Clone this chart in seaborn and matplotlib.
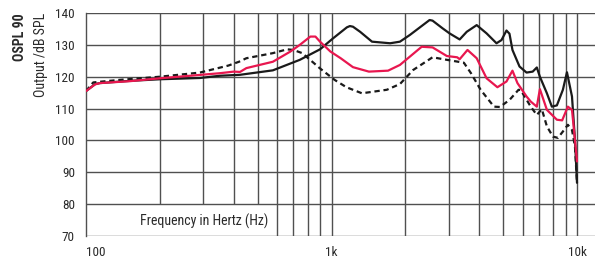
import numpy as np
import pandas as pd
import matplotlib
matplotlib.use("Agg")
import matplotlib.pyplot as plt
import seaborn as sns

# Frequency response curves (Hz, dB SPL)
black_freq = [100, 109, 114, 151, 200, 291, 351, 424, 577, 743, 898, 1013, 1155, 1188, 1223,
              1308, 1462, 1733, 1900, 2085, 2509, 2580, 2833, 3026, 3327, 3555, 3903, 4283,
              4700, 4925, 5161, 5308, 5459, 5832, 6229, 6600, 6860, 7060, 7540, 7900, 8280,
              8760, 9100, 9540, 9810, 10000]
black_spl = [115.5, 117.7, 118.0, 118.7, 119.2, 119.6, 120.3, 120.6, 122.0, 125.3, 128.6, 132.0,
             135.5, 135.9, 135.7, 134.1, 131.0, 130.5, 131.0, 133.1, 137.8, 137.6, 135.2, 133.6,
             131.7, 134.1, 136.2, 133.6, 130.5, 131.5, 134.5, 133.5, 128.4, 123.2, 121.3, 121.6,
             122.9, 120.0, 114.8, 110.6, 111.0, 115.9, 121.4, 113.8, 100.2, 86.7]

red_freq = [100, 109, 114, 151, 200, 351, 400, 424, 450, 577, 680, 743, 820, 860, 898, 990,
            1090, 1223, 1420, 1700, 1900, 2085, 2330, 2580, 2950, 3250, 3327, 3580, 3903, 4283,
            4740, 5161, 5459, 5720, 6229, 6480, 6860, 7060, 7540, 8280, 8700, 9180, 9540,
            9810, 10000]
red_spl = [115.5, 117.6, 118.0, 118.6, 119.5, 121.1, 121.6, 121.5, 122.7, 124.7, 127.9, 130.0,
           132.6, 132.6, 131.0, 127.9, 125.8, 123.0, 121.6, 121.9, 123.7, 126.3, 129.4, 129.2,
           126.5, 126.1, 125.5, 128.4, 125.8, 119.5, 116.7, 118.5, 121.9, 118.0, 113.8, 112.2,
           110.6, 116.1, 109.6, 106.5, 106.3, 110.6, 109.6, 100.2, 93.4]

dash_freq = [100, 107, 117, 137, 200, 291, 380, 420, 450, 577, 660, 700, 760, 850, 898, 1030,
             1150, 1330, 1680, 1900, 2150, 2580, 2950, 3460, 3700, 4050, 4590, 4850, 5308, 5780,
             5900, 6480, 6860, 7190, 7540, 7980, 8360, 8760, 9180, 9540, 9810, 10000]
dash_spl = [115.5, 118.2, 118.5, 119.0, 120.0, 121.3, 123.5, 124.7, 125.8, 127.4, 128.6, 128.4,
            127.4, 124.2, 122.6, 119.0, 116.7, 114.8, 115.9, 117.7, 122.1, 126.1, 125.3, 124.4,
            121.1, 115.9, 110.6, 110.5, 112.7, 115.9, 115.8, 110.6, 108.0, 109.8, 104.4, 101.2,
            100.8, 102.8, 104.9, 103.3, 98.1, 86.7]

grid_freq = [200, 300, 400, 500, 600, 700, 800, 900, 1000, 2000, 3000, 4000, 5000, 6000,
             7000, 8000, 9000, 10000]
y_ticks = [70, 80, 90, 100, 110, 120, 130, 140]
x_ticks = [100, 1000, 10000]
x_labels = ["100", "1k", "10k"]

sns.set_style("white")
plt.rcParams["font.family"] = ["Roboto Condensed", "Asap Condensed", "Archivo Narrow",
                               "DejaVu Sans"]

fig = plt.figure(figsize=(5.95, 2.6), dpi=100)
ax = fig.add_axes([86 / 595, 24 / 260, 1 - 86 / 595, 223 / 260])

grid_col = "#505050"
text_col = "#2a2a2a"
# horizontal grid lines
ax.hlines(y_ticks, 100, 20000, color=grid_col, lw=1.0, zorder=1)
# vertical grid lines; the short ones leave room for the axis caption
for f in grid_freq:
    ax.vlines(f, 80 if f < 600 else 70, 140, color=grid_col, lw=1.0, zorder=1)

sns.lineplot(x=dash_freq, y=dash_spl, ax=ax, color="#1a1a1a", lw=1.6,
             linestyle=(0, (2.4, 1.7)), zorder=3)
sns.lineplot(x=black_freq, y=black_spl, ax=ax, color="#1a1a1a", lw=1.6, zorder=4)
sns.lineplot(x=red_freq, y=red_spl, ax=ax, color="#e8174f", lw=1.6, zorder=5)

ax.set_xscale("log")
ax.set_xlim(100, 10 ** 4.0733)
ax.set_ylim(70, 140)
ax.set_xticks(x_ticks)
ax.set_xticklabels(x_labels)
ax.xaxis.set_minor_locator(matplotlib.ticker.NullLocator())
ax.set_yticks(y_ticks)
ax.tick_params(axis="y", length=0, pad=8, labelsize=9.5, colors=text_col)
ax.tick_params(axis="x", length=4, width=1.0, color=grid_col, pad=3, labelsize=9.5,
               colors=text_col)
ax.get_xticklabels()[0].set_ha("left")

for side in ["top", "right", "bottom"]:
    ax.spines[side].set_visible(False)
ax.spines["left"].set_color(grid_col)
ax.spines["left"].set_linewidth(1.0)

# caption sits inside the plot, in the gap left by the short grid lines
ax.text(0.232, 74.7, "Frequency in Hertz (Hz)", ha="center", va="center",
        fontsize=10, color=text_col, transform=ax.get_yaxis_transform())

fig.text(20 / 595, 0.95, "OSPL 90", rotation=90, ha="center", va="top",
         fontsize=10, fontweight="bold", color=text_col)
fig.text(41 / 595, 0.95, "Output /dB SPL", rotation=90, ha="center", va="top",
         fontsize=10, color=text_col)

fig.savefig("out.png", dpi=100)
